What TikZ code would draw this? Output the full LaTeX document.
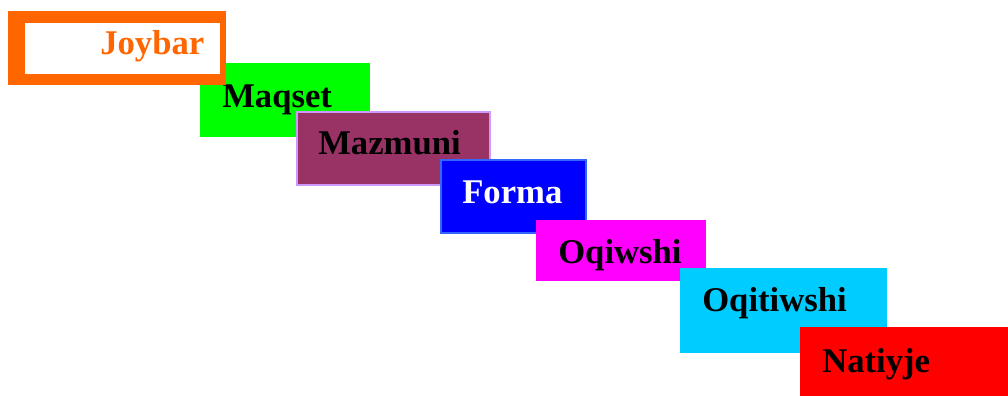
\documentclass[tikz,border=0pt]{standalone}
\usepackage{fontspec}
\setmainfont{Liberation Serif}
\usepackage{tikz}
\usetikzlibrary{positioning}
\definecolor{joyorange}{HTML}{FF6600}
\definecolor{plum}{HTML}{993366}
\definecolor{lilac}{HTML}{CC99FF}
\definecolor{skyblue}{HTML}{00CCFF}
\definecolor{blueedge}{HTML}{3366FF}
\definecolor{pinkmag}{HTML}{FF00FF}
\tikzset{
    box/.style 2 args={
        rectangle, anchor = north west,
        inner sep = 0pt, outer sep = 0pt,
        minimum width = #1*0.75pt,
        minimum height = #2*0.75pt
    },
    lbl/.style = {
        anchor = base west, inner sep = 0pt,
        font = \bfseries\fontsize{26}{30}\selectfont
    }
}
\begin{document}
\begin{tikzpicture}[x=0.75pt, y=-0.75pt]
\useasboundingbox (0,0) rectangle (1008,396);

% Stairs
\node[box={170}{74}, fill=green] (maqset) at (200,63) {};
\node[lbl] (maqsetT) at ([shift={(22,44)}]maqset.north west) {Maqset};

\node[box={193}{73}, fill=plum, draw=lilac, line width=1.5pt] (mazmuni) at (297,112) {};
\node[lbl] (mazmuniT) at ([shift={(21,42)}]mazmuni.north west) {Mazmuni};

\node[box={145}{73}, fill=blue, draw=blueedge, line width=1.2pt] (forma) at (441,160) {};
\node[lbl, text=white] (formaT) at ([shift={(21,43)}]forma.north west) {Forma};

\node[box={170}{61}, fill=pinkmag] (oqiwshi) at (536,220) {};
\node[lbl] (oqiwshiT) at ([shift={(22,43)}]oqiwshi.north west) {Oqiwshi};

\node[box={207}{85}, fill=skyblue] (oqitiwshi) at (680,268) {};
\node[lbl] (oqitiwshiT) at ([shift={(22,43)}]oqitiwshi.north west) {Oqitiwshi};

\node[box={208}{69}, fill=red] (natiyje) at (800,327) {};
\node[lbl] (natiyjeT) at ([shift={(22,45)}]natiyje.north west) {Natiyje};

% Joybar frame
\node[box={218}{74}, fill=joyorange] (joybar) at (8,11) {};
\node[box={195}{51}, fill=white] (joybarIn) at ([shift={(17,12)}]joybar.north west) {};
\node[lbl, text=joyorange] (joybarT) at ([shift={(75,32)}]joybarIn.north west) {Joybar};

\end{tikzpicture}
\end{document}
